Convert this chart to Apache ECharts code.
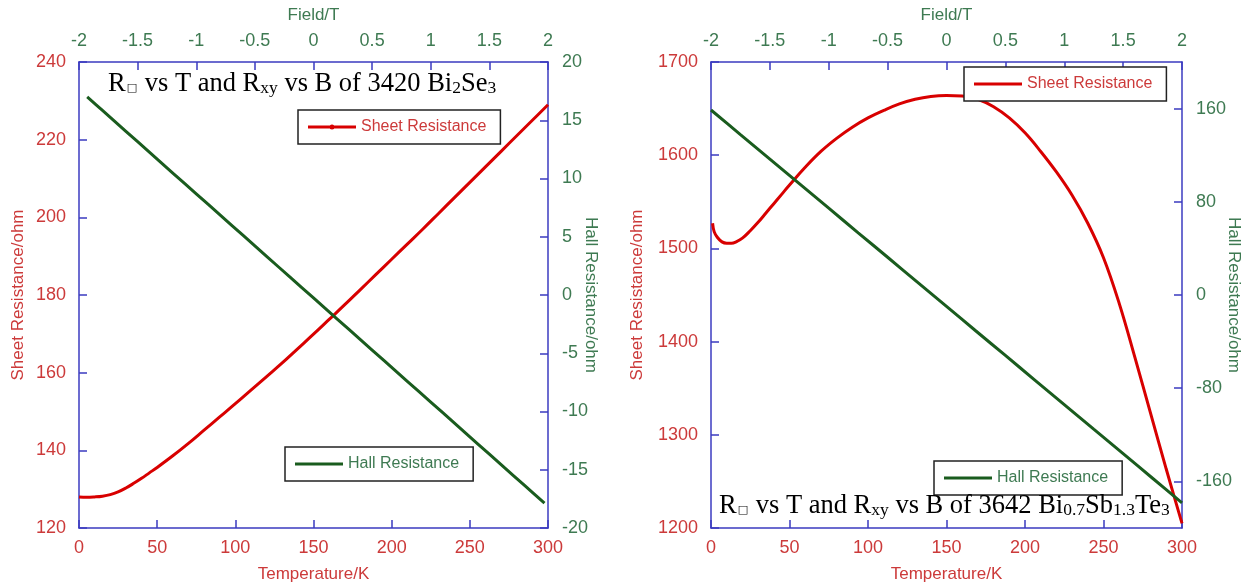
<!DOCTYPE html>
<html>
<head>
<meta charset="utf-8">
<script src="https://cdn.jsdelivr.net/npm/echarts@6/dist/echarts.min.js"></script>
<style>
  html, body { margin: 0; padding: 0; background: #ffffff; overflow: hidden; }
  #wrap { position: relative; width: 1248px; height: 586px; }
  #left { position: absolute; left: 0; top: 0; width: 624px; height: 586px; }
  #right { position: absolute; left: 624px; top: 0; width: 624px; height: 586px; }
</style>
</head>
<body>
<div id="wrap"><div id="left"></div><div id="right"></div></div>
<script>
// ---- Bi2Se3 (sample 3420): sheet resistance vs temperature ----
const tempA = [0, 5, 10, 15, 20, 25, 30, 35, 40, 45, 50, 60, 70, 80, 90, 100, 110, 120, 130, 140, 150,
  160, 170, 180, 190, 200, 210, 220, 230, 240, 250, 260, 270, 280, 290, 300];
const sheetA = [128, 127.9, 128, 128.2, 128.6, 129.3, 130.3, 131.5, 132.8, 134.2, 135.6, 138.6, 141.8,
  145.2, 148.6, 152, 155.5, 159, 162.5, 166.2, 169.9, 173.7, 177.5, 181.4, 185.3, 189.2, 193.1, 197,
  201, 205, 209, 213, 217, 221, 225, 229];
// ---- Bi2Se3 (sample 3420): Hall resistance vs field ----
const fieldA = [-1.93, -1.8, -1.6, -1.4, -1.2, -1.0, -0.8, -0.6, -0.4, -0.2, 0, 0.2, 0.4, 0.6, 0.8,
  1.0, 1.2, 1.4, 1.6, 1.8, 1.97];
const hallA = [17.0, 15.84, 14.05, 12.26, 10.47, 8.69, 6.9, 5.11, 3.32, 1.53, -0.25, -2.04, -3.83,
  -5.62, -7.41, -9.19, -10.98, -12.77, -14.56, -16.35, -17.87];

// ---- Bi0.7Sb1.3Te3 (sample 3642): sheet resistance vs temperature ----
const tempB = [1, 2, 4, 7, 10, 13, 16, 20, 25, 30, 35, 40, 45, 50, 60, 70, 80, 90, 100, 110, 120, 130,
  140, 150, 160, 170, 180, 190, 200, 210, 220, 230, 240, 250, 260, 270, 280, 290, 300];
const sheetB = [1527, 1518, 1512, 1507, 1505.5, 1505.5, 1507, 1511, 1519, 1528, 1538, 1548, 1558, 1568,
  1587, 1604, 1618, 1630, 1640, 1648, 1655, 1660, 1663, 1664, 1663.5, 1660, 1652, 1640, 1624, 1604,
  1582, 1557, 1527, 1490, 1441, 1383, 1323, 1263, 1205];
// ---- Bi0.7Sb1.3Te3 (sample 3642): Hall resistance vs field ----
const fieldB = [-2, -1.75, -1.5, -1.25, -1, -0.75, -0.5, -0.25, 0, 0.25, 0.5, 0.75, 1, 1.25, 1.5, 1.75, 2];
const hallB = [158.8, 137.7, 116.7, 95.6, 74.5, 53.4, 32.4, 11.3, -9.8, -30.9, -51.9, -73.0, -94.1,
  -115.2, -136.2, -157.3, -178.4];

// tick values shown on the Hall axis of the second panel
const hallTicksB = [-160, -80, 0, 80, 160];

const SANS = "'Liberation Sans', Arial, sans-serif";
const SERIF = "'Liberation Serif', 'Times New Roman', serif";
const AXIS_BLUE = '#3b3bc0';
const RED_TEXT = '#cc3a3a';
const GREEN_TEXT = '#3e7a52';
const RED_LINE = '#d80000';
const GREEN_LINE = '#1a5c1e';

// legend keys: a plain line, and a line with a small dot in the middle
const LINE_ICON = 'path://M0,0 L48,0 L48,3 L0,3 Z';
const DOT_LINE_ICON = 'path://M0,1 L48,1 L48,4 L0,4 Z M24,0 A2.5,2.5 0 1 1 24,5 A2.5,2.5 0 1 1 24,0 Z';

const pairs = (xs, ys) => xs.map((x, i) => [x, ys[i]]);
const plain = v => String(v);

function richTitle() {
  return {
    m: { fontFamily: SERIF, fontSize: 26.5, fontWeight: 'normal', color: '#000', lineHeight: 30 },
    s: { fontFamily: SERIF, fontSize: 17.5, fontWeight: 'normal', color: '#000', lineHeight: 18, verticalAlign: 'bottom', padding: [0, 0, 2, 0] },
    b: { fontFamily: "'DejaVu Sans', sans-serif", fontSize: 11, fontWeight: 'normal', color: '#000', lineHeight: 14, verticalAlign: 'bottom', padding: [0, 1, 5, 1] }
  };
}

function axisLineStyle() {
  return { show: true, onZero: false, lineStyle: { color: AXIS_BLUE, width: 1.5 } };
}
function tick() {
  return { show: true, inside: true, length: 8, lineStyle: { color: AXIS_BLUE, width: 1.5 } };
}

function legendBox(name, pos, icon, color, padRight) {
  return {
    data: [{ name: name, icon: icon }],
    left: pos[0], top: pos[1],
    orient: 'horizontal',
    itemWidth: 48, itemHeight: icon === LINE_ICON ? 3 : 5,
    padding: [9, padRight, 9, 10],
    borderColor: '#222', borderWidth: 1.5, borderRadius: 0,
    backgroundColor: '#ffffff',
    textStyle: { color: color, fontFamily: SANS, fontSize: 16 },
    selectedMode: false
  };
}

function buildOption(cfg) {
  return {
    backgroundColor: '#ffffff',
    animation: false,
    title: {
      text: cfg.title,
      left: cfg.titleLeft, top: cfg.titleTop,
      padding: 0,
      textStyle: { fontWeight: 'normal', rich: richTitle() }
    },
    legend: [
      legendBox('Sheet Resistance', cfg.sheetLegend, cfg.sheetDot ? DOT_LINE_ICON : LINE_ICON, RED_TEXT, cfg.sheetPadR),
      legendBox('Hall Resistance', cfg.hallLegend, LINE_ICON, GREEN_TEXT, cfg.hallPadR)
    ],
    grid: { left: cfg.gridLeft, right: cfg.gridRight, top: 62, bottom: 58, containLabel: false, outerBoundsMode: 'none' },
    xAxis: [
      {
        type: 'value', position: 'bottom', min: 0, max: 300, interval: 50,
        name: 'Temperature/K', nameLocation: 'middle', nameGap: 38, nameMoveOverlap: false,
        nameTextStyle: { color: RED_TEXT, fontFamily: SANS, fontSize: 17 },
        axisLine: axisLineStyle(), axisTick: tick(),
        axisLabel: { color: RED_TEXT, fontFamily: SANS, fontSize: 18, margin: 11, formatter: plain },
        splitLine: { show: false }
      },
      {
        type: 'value', position: 'top', min: -2, max: 2, interval: 0.5,
        name: 'Field/T', nameLocation: 'middle', nameGap: 38, nameMoveOverlap: false,
        nameTextStyle: { color: GREEN_TEXT, fontFamily: SANS, fontSize: 17 },
        axisLine: axisLineStyle(), axisTick: tick(),
        axisLabel: { color: GREEN_TEXT, fontFamily: SANS, fontSize: 18, margin: 12, formatter: plain },
        splitLine: { show: false }
      }
    ],
    yAxis: [
      {
        type: 'value', position: 'left', min: cfg.sheetMin, max: cfg.sheetMax, interval: cfg.sheetStep,
        name: 'Sheet Resistance/ohm', nameLocation: 'middle', nameGap: cfg.leftNameGap, nameRotate: 90,
        nameMoveOverlap: false,
        nameTextStyle: { color: RED_TEXT, fontFamily: SANS, fontSize: 17 },
        axisLine: axisLineStyle(), axisTick: tick(),
        axisLabel: { color: RED_TEXT, fontFamily: SANS, fontSize: 18, margin: 13, formatter: plain },
        splitLine: { show: false }
      },
      {
        type: 'value', position: 'right', min: cfg.hallMin, max: cfg.hallMax, interval: cfg.hallStep,
        name: 'Hall Resistance/ohm', nameLocation: 'middle', nameGap: cfg.rightNameGap, nameRotate: -90,
        nameMoveOverlap: false,
        nameTextStyle: { color: GREEN_TEXT, fontFamily: SANS, fontSize: 17 },
        axisLine: axisLineStyle(),
        axisTick: Object.assign(tick(), cfg.hallTicks ? { customValues: cfg.hallTicks } : {}),
        axisLabel: Object.assign({ color: GREEN_TEXT, fontFamily: SANS, fontSize: 18, margin: 14, formatter: plain },
          cfg.hallTicks ? { customValues: cfg.hallTicks } : {}),
        splitLine: { show: false }
      }
    ],
    series: [
      {
        name: 'Sheet Resistance', type: 'line', xAxisIndex: 0, yAxisIndex: 0,
        data: pairs(cfg.temp, cfg.sheet),
        smooth: 0.4, showSymbol: false, symbol: 'none',
        lineStyle: { color: RED_LINE, width: 3 },
        itemStyle: { color: RED_LINE }
      },
      {
        name: 'Hall Resistance', type: 'line', xAxisIndex: 1, yAxisIndex: 1,
        data: pairs(cfg.field, cfg.hall),
        smooth: 0.3, showSymbol: false, symbol: 'none',
        lineStyle: { color: GREEN_LINE, width: 3 },
        itemStyle: { color: GREEN_LINE }
      }
    ]
  };
}

const chartA = echarts.init(document.getElementById('left'), null, { renderer: 'canvas' });
chartA.setOption(buildOption({
  title: '{m|R}{b|□}{m| vs T and R}{s|xy}{m| vs B of 3420 Bi}{s|2}{m|Se}{s|3}',
  titleLeft: 108, titleTop: 69,
  sheetDot: true,
  sheetLegend: [298, 110], hallLegend: [285, 447],
  sheetPadR: 14, hallPadR: 14,
  gridLeft: 79, gridRight: 76,
  sheetMin: 120, sheetMax: 240, sheetStep: 20,
  hallMin: -20, hallMax: 20, hallStep: 5, hallTicks: null,
  leftNameGap: 52, rightNameGap: 34,
  temp: tempA, sheet: sheetA, field: fieldA, hall: hallA
}));

const chartB = echarts.init(document.getElementById('right'), null, { renderer: 'canvas' });
chartB.setOption(buildOption({
  title: '{m|R}{b|□}{m| vs T and R}{s|xy}{m| vs B of 3642 Bi}{s|0.7}{m|Sb}{s|1.3}{m|Te}{s|3}',
  titleLeft: 719 - 624, titleTop: 491,
  sheetDot: false,
  sheetLegend: [964 - 624, 67], hallLegend: [934 - 624, 461],
  sheetPadR: 14, hallPadR: 14,
  gridLeft: 711 - 624, gridRight: 66,
  sheetMin: 1200, sheetMax: 1700, sheetStep: 100,
  hallMin: -200, hallMax: 200, hallStep: 40, hallTicks: hallTicksB,
  leftNameGap: 65, rightNameGap: 43,
  temp: tempB, sheet: sheetB, field: fieldB, hall: hallB
}));
</script>
</body>
</html>
